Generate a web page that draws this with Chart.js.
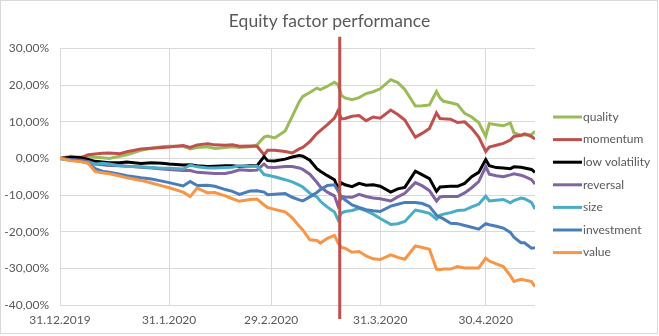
<!DOCTYPE html>
<html>
<head>
<meta charset="utf-8">
<title>Equity factor performance</title>
<script src="https://cdn.jsdelivr.net/npm/chart.js@4"></script>
<style>
    html, body { margin: 0; padding: 0; background: #fff; }
    #chartBox { width: 659px; height: 336px; position: relative; }
</style>
</head>
<body>
<div id="chartBox"><canvas id="factorChart"></canvas></div>
<script>
// days after 31.12.2019
const days = [0, 3, 6, 8, 10, 12, 14, 17, 19, 23, 26, 29, 31, 35, 37, 39, 42, 44, 47, 49, 51, 54, 56, 58, 59, 61, 64, 66, 68, 69,
    71, 73, 74, 76, 78, 79, 80, 81, 83, 85, 87, 89, 91, 94, 96, 98, 101, 103, 105, 107, 108, 109, 111, 113, 115, 117, 119, 121, 122, 124,
    126, 128, 129, 131, 132, 134, 135];

const quality = [0, 0.6, 0.3, 0.5, 0.3, 0.2, 0.0, 0.6, 1.0, 2.2, 2.8, 3.2, 3.3, 3.3, 2.6, 3.0, 3.2, 2.7, 3.0, 3.2, 3.0, 3.2, 3.7, 5.8, 6.1, 5.6, 7.5, 11.5, 15.5, 16.9,
    18.0, 19.2, 18.8, 19.7, 20.8, 20.1, 17.2, 16.5, 16.0, 16.6, 17.7, 18.2, 19.0, 21.5, 20.7, 18.8, 14.3, 14.4, 14.6, 18.3, 16.5, 15.6, 15.2, 14.7, 12.3, 11.3, 9.8, 6.0, 9.5, 9.2,
    8.9, 9.7, 7.0, 6.3, 6.4, 6.5, 7.4];
const momentum = [0, 0.3, 0.2, 1.0, 1.2, 1.4, 1.5, 1.3, 1.8, 2.6, 2.8, 3.0, 3.1, 3.5, 3.0, 3.7, 4.0, 3.7, 3.6, 3.7, 3.3, 3.4, 3.3, 1.0, 2.2, 2.2, 1.9, 1.5, 2.6, 3.0,
    4.6, 6.8, 7.6, 9.2, 11.0, 13.0, 10.8, 10.9, 11.5, 11.7, 10.3, 11.3, 11.0, 13.2, 12.0, 10.5, 5.8, 6.9, 8.2, 12.4, 10.9, 10.8, 10.7, 9.8, 10.0, 8.2, 5.8, 1.9, 3.1, 3.6,
    4.1, 5.0, 6.0, 6.3, 6.7, 6.0, 5.3];
const lowVolatility = [0, 0.3, 0.2, -0.3, -0.8, -1.0, -1.2, -1.2, -1.0, -1.4, -1.2, -1.3, -1.5, -1.8, -1.7, -2.0, -2.2, -2.1, -2.0, -2.0, -2.2, -2.0, -2.0, 0.5, -0.6, -0.7, -0.2, 0.4, 0.8, 0.6,
    -0.5, -2.8, -3.5, -4.7, -5.8, -8.1, -6.7, -7.2, -7.7, -6.8, -7.3, -7.2, -7.6, -9.2, -8.3, -7.9, -3.5, -4.5, -5.5, -9.0, -7.8, -7.7, -7.6, -7.6, -6.8, -5.0, -3.8, -0.3, -2.0, -2.5,
    -2.6, -2.8, -2.3, -2.4, -2.6, -3.0, -3.8];
const reversal = [0, -0.3, -0.5, -0.8, -1.5, -1.7, -1.9, -2.0, -2.1, -2.4, -2.6, -2.9, -3.0, -3.3, -3.3, -3.8, -4.0, -4.1, -4.1, -3.7, -3.1, -3.3, -3.2, -1.5, -2.4, -2.5, -2.2, -2.2, -2.6, -3.0,
    -4.3, -6.5, -7.8, -9.2, -10.2, -12.9, -10.4, -10.5, -10.6, -9.8, -10.4, -10.8, -11.0, -11.6, -10.5, -9.5, -6.6, -7.5, -8.8, -11.6, -10.5, -10.4, -10.4, -10.4, -9.4, -8.0, -6.3, -2.2, -4.3, -4.7,
    -5.0, -4.5, -4.2, -4.6, -4.9, -5.8, -7.0];
const size = [0, -0.5, -0.8, -1.2, -1.6, -1.3, -1.5, -2.0, -2.2, -2.3, -2.5, -2.7, -2.7, -2.9, -1.8, -2.3, -2.6, -2.6, -2.5, -2.4, -2.0, -2.2, -2.1, -4.4, -4.6, -5.0, -5.8, -6.4, -7.3, -7.8,
    -9.5, -10.5, -11.7, -13.3, -14.6, -16.7, -14.9, -14.5, -14.2, -13.6, -14.3, -15.2, -16.4, -18.0, -17.8, -17.2, -14.1, -14.5, -15.0, -16.6, -15.5, -15.2, -14.8, -14.2, -14.1, -13.2, -12.5, -10.3, -11.6, -11.4,
    -11.2, -12.1, -11.5, -10.8, -11.0, -12.0, -13.8];
const investment = [0, -0.4, -0.6, -1.2, -2.8, -3.5, -3.8, -4.3, -4.7, -5.3, -5.6, -6.2, -6.6, -7.5, -6.3, -7.4, -7.3, -7.6, -8.5, -9.0, -9.8, -8.9, -8.8, -9.2, -9.9, -9.8, -9.6, -10.6, -11.3, -11.6,
    -10.5, -9.3, -8.5, -7.4, -7.2, -8.8, -10.6, -11.3, -12.7, -13.4, -14.0, -14.3, -14.5, -13.0, -12.5, -12.0, -12.0, -12.3, -13.1, -15.5, -16.0, -16.5, -17.7, -17.8, -18.3, -18.8, -19.3, -17.8, -18.1, -18.5,
    -19.0, -20.2, -21.5, -23.0, -23.0, -24.5, -24.4];
const value = [0, -0.6, -0.9, -1.3, -3.6, -3.9, -4.2, -4.8, -5.3, -6.0, -6.7, -7.5, -8.0, -9.2, -10.4, -8.1, -9.4, -9.3, -10.2, -11.0, -11.7, -11.2, -11.1, -12.7, -13.4, -13.9, -14.6, -16.2, -18.5, -19.5,
    -22.2, -22.4, -23.1, -21.8, -21.0, -23.0, -24.3, -24.5, -25.6, -25.4, -26.6, -27.4, -27.6, -26.3, -27.0, -27.5, -23.9, -24.3, -24.8, -30.2, -30.4, -30.2, -30.2, -29.5, -29.9, -29.9, -29.9, -27.2, -28.0, -28.8,
    -29.5, -32.0, -33.6, -33.0, -33.2, -33.6, -35.0];

// vertical marker (around 19.3.2020), reaches past the plot area
const markerDay = [79.5, 79.5];
const markerValue = [33.2, -43.8];

const tickDays = [0, 31, 60, 91, 121];
const tickLabels = ['31.12.2019', '31.1.2020', '29.2.2020', '31.3.2020', '30.4.2020'];
const yTicks = [30, 20, 10, 0, -10, -20, -30, -40];

const seriesNames = ['quality', 'momentum', 'low volatility', 'reversal', 'size', 'investment', 'value'];
const seriesColors = ['#9bbb59', '#c0504d', '#000000', '#8064a2', '#4bacc6', '#4a7ebb', '#f79646'];
const seriesData = [quality, momentum, lowVolatility, reversal, size, investment, value];

const textColor = '#595959';
const fontFamily = 'Lato, "Open Sans", sans-serif';

function toPoints(xs, ys) {
    return xs.map((x, i) => ({ x: x, y: ys[i] }));
}

function formatPercent(v) {
    return v.toFixed(2).replace('.', ',') + '%';
}

let datasets = seriesNames.map((name, i) => ({
    label: name,
    data: toPoints(days, seriesData[i]),
    borderColor: seriesColors[i],
    backgroundColor: seriesColors[i],
    borderWidth: 3,
    pointRadius: 0,
    tension: 0,
    order: seriesNames.length - i   // last series on top, like Excel
}));

datasets.push({
    label: 'marker',
    data: toPoints(markerDay, markerValue),
    borderColor: '#c0504d',
    borderWidth: 3,
    pointRadius: 0,
    clip: false,
    order: 0
});

// white background and thin frame round the chart
const framePlugin = {
    id: 'frame',
    beforeDraw(chart) {
        const ctx = chart.ctx;
        ctx.save();
        ctx.fillStyle = '#ffffff';
        ctx.fillRect(0, 0, chart.width, chart.height);
        ctx.strokeStyle = '#d9d9d9';
        ctx.lineWidth = 1;
        ctx.strokeRect(0.5, 0.5, chart.width - 2, chart.height - 3);
        ctx.restore();
    }
};

// legend on the right, drawn by hand so its place matches the original
const sideLegend = {
    id: 'sideLegend',
    afterDraw(chart) {
        const ctx = chart.ctx;
        ctx.save();
        ctx.font = '12px ' + fontFamily;
        ctx.textBaseline = 'middle';
        ctx.textAlign = 'left';
        chart.data.datasets.forEach((ds, i) => {
            if (ds.label === 'marker') return;
            const y = 117 + i * 22.6;
            ctx.strokeStyle = ds.borderColor;
            ctx.lineWidth = 3;
            ctx.beginPath();
            ctx.moveTo(553, y);
            ctx.lineTo(582, y);
            ctx.stroke();
            ctx.fillStyle = textColor;
            ctx.fillText(ds.label, 583, y);
        });
        ctx.restore();
    }
};

new Chart(document.getElementById('factorChart'), {
    type: 'line',
    data: { datasets: datasets },
    plugins: [framePlugin, sideLegend],
    options: {
        responsive: true,
        maintainAspectRatio: false,
        animation: false,
        layout: { padding: 0 },
        plugins: {
            legend: { display: false },
            tooltip: { enabled: false },
            title: {
                display: true,
                text: 'Equity factor performance',
                color: textColor,
                font: { family: fontFamily, size: 17.5, weight: 'normal' },
                padding: { top: 11, bottom: 16.5 }
            }
        },
        scales: {
            x: {
                type: 'linear',
                min: 0,
                max: 135,
                afterBuildTicks: function(scale) {
                    scale.ticks = tickDays.map(v => ({ value: v }));
                },
                afterFit: function(scale) {
                    scale.height = 31;
                },
                grid: { color: '#d9d9d9', drawTicks: false },
                border: { display: false },
                ticks: {
                    autoSkip: false,
                    maxRotation: 0,
                    padding: 8,
                    color: textColor,
                    font: { family: fontFamily, size: 12 },
                    callback: function(v) {
                        const i = tickDays.indexOf(v);
                        return i >= 0 ? tickLabels[i] : '';
                    }
                }
            },
            y: {
                min: -40,
                max: 30,
                afterBuildTicks: function(scale) {
                    scale.ticks = yTicks.map(v => ({ value: v }));
                },
                afterFit: function(scale) {
                    scale.width = 60;
                },
                grid: { color: '#d9d9d9', drawTicks: false },
                border: { display: false },
                ticks: {
                    padding: 11,
                    color: textColor,
                    font: { family: fontFamily, size: 12 },
                    callback: function(v) {
                        return formatPercent(v);
                    }
                }
            },
            // empty right axis, only keeps room for the legend
            legendSpace: {
                position: 'right',
                min: 0,
                max: 1,
                afterFit: function(scale) {
                    scale.width = 124;
                },
                grid: { display: false },
                border: { display: false },
                ticks: { display: false }
            }
        }
    }
});
</script>
</body>
</html>
